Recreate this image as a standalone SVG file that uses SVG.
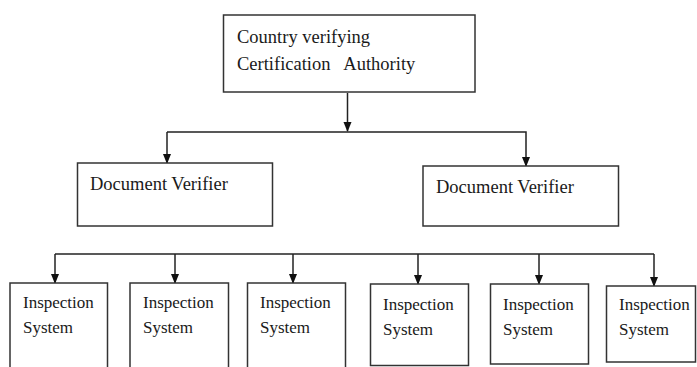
<svg xmlns="http://www.w3.org/2000/svg" width="697" height="367" viewBox="0 0 697 367">
<style>
.box{fill:#fff;stroke:#333;stroke-width:1.5}
text{font-family:'Liberation Serif',serif;fill:#1a1a1a}
.big{font-size:18.5px}
.sm{font-size:17px}
.ln{fill:none;stroke:#222;stroke-width:1.5}
</style>
<defs>
<marker id="ah" markerWidth="10" markerHeight="10" refX="9" refY="5" orient="auto" markerUnits="userSpaceOnUse">
<path d="M0,1 L10,5 L0,9 Z" fill="#111"/>
</marker>
</defs>
<g id="connectors">
<line class="ln" x1="347.5" y1="93" x2="347.5" y2="131" marker-end="url(#ah)"/>
<polyline class="ln" points="167,132 526,132 526,166" marker-end="url(#ah)"/>
<line class="ln" x1="167" y1="132" x2="167" y2="163" marker-end="url(#ah)"/>
<polyline class="ln" points="55,254 654,254"/>
<line class="ln" x1="55" y1="254" x2="55" y2="283" marker-end="url(#ah)"/>
<line class="ln" x1="175" y1="254" x2="175" y2="283" marker-end="url(#ah)"/>
<line class="ln" x1="293" y1="254" x2="293" y2="283" marker-end="url(#ah)"/>
<line class="ln" x1="418" y1="254" x2="418" y2="284" marker-end="url(#ah)"/>
<line class="ln" x1="539" y1="254" x2="539" y2="284" marker-end="url(#ah)"/>
<line class="ln" x1="654" y1="254" x2="654" y2="286" marker-end="url(#ah)"/>
</g>
<g id="cvca">
<rect class="box" x="223.5" y="15" width="251.5" height="77"/>
<text class="big" x="237" y="43">Country verifying</text>
<text class="big" x="237" y="70" style="white-space:pre">Certification   Authority</text>
</g>
<g id="dv1">
<rect class="box" x="77.5" y="163" width="195" height="63"/>
<text class="big" x="90" y="190">Document Verifier</text>
</g>
<g id="dv2">
<rect class="box" x="423" y="166" width="195.5" height="60"/>
<text class="big" x="436" y="193">Document Verifier</text>
</g>
<g id="is1">
<rect class="box" x="10" y="283" width="97.5" height="90"/>
<text class="sm" x="23" y="308">Inspection</text>
<text class="sm" x="23" y="333">System</text>
</g>
<g id="is2">
<rect class="box" x="130" y="283" width="98.5" height="90"/>
<text class="sm" x="143" y="308">Inspection</text>
<text class="sm" x="143" y="333">System</text>
</g>
<g id="is3">
<rect class="box" x="247.5" y="283" width="98" height="90"/>
<text class="sm" x="260" y="308">Inspection</text>
<text class="sm" x="260" y="333">System</text>
</g>
<g id="is4">
<rect class="box" x="370.5" y="284" width="98" height="81.5"/>
<text class="sm" x="383" y="310">Inspection</text>
<text class="sm" x="383" y="335">System</text>
</g>
<g id="is5">
<rect class="box" x="490.5" y="284" width="98" height="80"/>
<text class="sm" x="503" y="310">Inspection</text>
<text class="sm" x="503" y="335">System</text>
</g>
<g id="is6">
<rect class="box" x="606.5" y="286" width="89" height="76"/>
<text class="sm" x="619" y="310">Inspection</text>
<text class="sm" x="619" y="335">System</text>
</g>
</svg>
